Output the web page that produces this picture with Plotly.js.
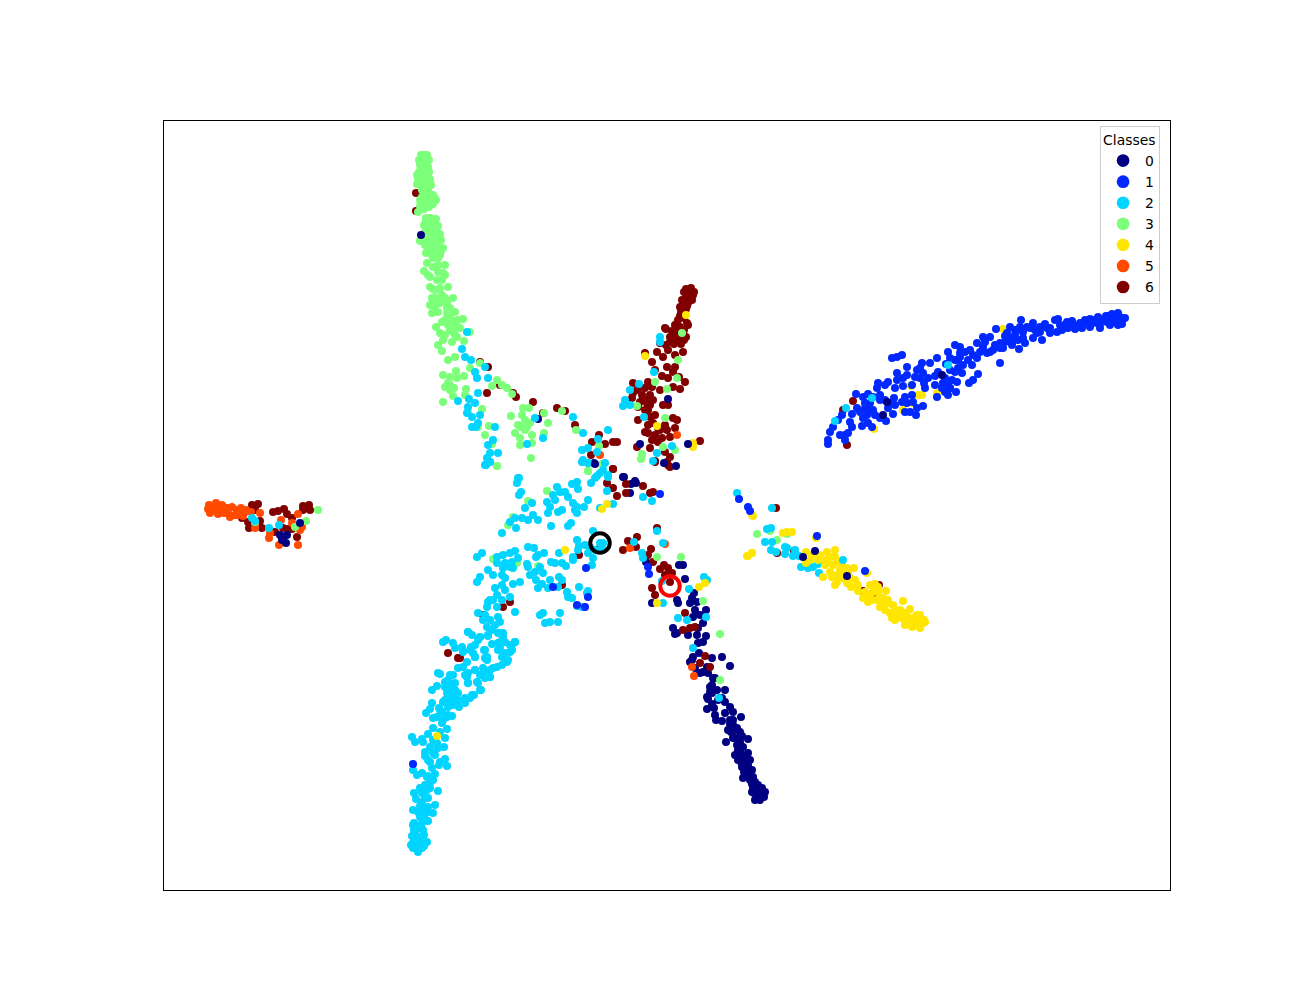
<!DOCTYPE html>
<html>
<head>
<meta charset="utf-8">
<script src="https://cdn.plot.ly/plotly-3.0.1.min.js"></script>
<style>html,body{margin:0;padding:0;background:#fff}</style>
</head>
<body>
<div id="chart" style="width:1300px;height:1000px"></div>
<script>
const classNames = ["0","1","2","3","4","5","6"];
const classColors = ["#000080","#0028ff","#00d4ff","#7cff79","#ffe600","#ff4a00","#800000"];

const class0 = [[594,537],[623,523],[636,517],[631,516],[630,507],[646,438],[679,435],[683,435],[685,421],[652,397],[694,407],[692,402],[697,398],[677,400],[678,397],[690,397],[695,390],[706,390],[693,383],[700,385],[703,377],[698,372],[673,372],[677,367],[688,365],[697,365],[706,364],[698,357],[703,358],[692,340],[693,343],[722,343],[730,334],[708,327],[713,322],[703,328],[695,332],[700,327],[710,313],[717,310],[725,310],[712,307],[707,303],[720,302],[675,366],[699,347],[690,338],[712,342],[707,333],[715,322],[712,315],[710,308],[708,301],[707,291],[712,296],[722,302],[725,298],[730,293],[715,285],[722,279],[725,287],[733,288],[741,283],[733,280],[728,270],[737,272],[733,262],[742,264],[748,261],[726,258],[737,255],[743,253],[735,245],[748,247],[740,248],[743,242],[742,233],[748,235],[743,222],[750,227],[753,223],[755,218],[758,215],[753,213],[762,212],[757,207],[760,203],[754,207],[763,207],[758,202],[756,211],[760,209],[752,218],[746,230],[745,240],[738,250],[730,276],[731,268],[735,262],[740,258],[747,240],[749,231],[755,214],[761,205],[538,581],[624,523],[635,519]];
const class0Dense = [[752,216],[756,206],[764,203],[765,208],[752,208],[760,200],[755,200],[750,220],[748,225],[752,230],[745,235],[750,240],[735,270],[740,262],[742,245],[738,240],[733,275],[740,268],[730,280],[718,300],[714,292],[716,280],[744,228],[741,238]];
const class1 = [[1117,682],[1120,683],[1113,680],[1122,680],[1110,681],[1107,678],[1102,680],[1097,677],[1092,677],[1087,677],[1085,680],[1090,673],[1080,677],[1073,675],[1075,671],[1067,678],[1058,681],[1055,680],[1068,672],[1062,670],[1057,668],[1050,667],[1045,676],[1047,672],[1033,677],[1021,680],[1042,660],[1037,667],[1030,672],[1027,673],[1023,668],[1017,670],[1010,673],[996,671],[1007,667],[1023,662],[1033,662],[1018,660],[1012,662],[1005,658],[1000,657],[1019,651],[1012,655],[1003,652],[998,653],[990,663],[983,663],[977,657],[983,653],[993,650],[987,647],[980,648],[973,645],[968,640],[977,642],[972,635],[1000,637],[955,655],[960,653],[948,648],[960,647],[950,642],[955,640],[937,642],[963,635],[958,632],[962,627],[955,628],[978,626],[973,620],[969,617],[952,620],[957,618],[948,615],[943,617],[942,612],[950,612],[956,608],[945,608],[937,603],[935,624],[930,637],[922,637],[920,632],[917,630],[923,627],[902,645],[897,643],[892,642],[907,633],[897,627],[907,625],[915,623],[920,622],[924,617],[903,622],[897,620],[888,618],[885,615],[878,617],[877,612],[895,612],[903,614],[863,603],[856,606],[868,606],[873,603],[894,602],[905,603],[912,605],[902,598],[895,595],[890,597],[888,592],[907,597],[913,598],[923,594],[917,592],[905,588],[910,588],[916,585],[893,586],[886,579],[870,597],[865,592],[873,590],[857,592],[852,586],[867,585],[875,585],[863,582],[880,582],[868,577],[862,574],[872,573],[852,573],[842,585],[838,580],[833,573],[830,568],[845,565],[848,567],[840,565],[845,560],[828,560],[828,556],[1115,678],[1119,679],[1105,680],[1100,676],[1095,680],[1078,673],[1065,675],[1040,668],[1015,665],[1008,660],[995,655],[990,648],[965,648],[958,640],[946,636],[938,628],[928,622],[912,615],[880,600],[860,588],[850,578],[739,501],[748,493],[750,489],[817,464],[865,429],[660,506],[648,433],[649,426],[586,432],[553,413],[588,403],[577,395],[585,393],[413,236]];
const class1Dense = [[1125,682],[1122,676],[1112,686],[1118,687],[1106,684],[1098,683],[1110,675],[1100,672],[1090,681],[1082,672],[1072,679],[1060,675],[1050,672],[1040,673],[1035,670],[1020,673],[1015,670],[1005,664],[1025,657],[1012,657],[1000,652],[985,658],[970,650],[960,643],[950,630],[945,622],[935,615],[925,612],[885,600],[880,605],[865,597],[870,590],[950,612],[948,605],[1118,675],[1108,684]];
const class2 = [[418,148],[415,153],[422,152],[418,157],[423,157],[413,157],[427,158],[415,162],[420,163],[415,168],[423,170],[417,172],[414,177],[422,177],[428,179],[420,183],[425,186],[433,187],[413,190],[423,192],[428,193],[435,195],[422,198],[416,201],[428,202],[414,207],[422,207],[427,210],[438,209],[425,215],[433,220],[430,217],[427,223],[422,227],[417,225],[413,230],[432,232],[430,238],[440,238],[445,241],[447,234],[439,235],[425,244],[433,247],[425,248],[438,252],[444,253],[430,253],[423,258],[415,258],[412,263],[422,261],[428,266],[437,257],[445,262],[433,272],[440,268],[447,271],[442,277],[433,282],[437,283],[447,283],[452,284],[442,288],[426,287],[430,291],[432,297],[439,292],[443,298],[448,293],[453,295],[459,293],[465,297],[470,302],[474,305],[481,310],[450,302],[455,305],[458,307],[447,307],[452,310],[432,310],[437,314],[445,313],[450,317],[455,317],[448,320],[453,325],[438,327],[440,326],[458,332],[467,338],[465,325],[468,327],[468,317],[478,317],[475,330],[480,325],[485,322],[490,323],[493,332],[502,335],[483,332],[443,358],[446,360],[453,357],[455,352],[462,353],[471,353],[463,348],[473,347],[475,343],[484,350],[487,343],[487,340],[480,363],[488,364],[468,368],[498,367],[503,367],[500,358],[498,350],[505,347],[512,350],[515,358],[507,338],[510,355],[518,522],[517,517],[521,508],[519,505],[553,505],[557,513],[560,508],[565,508],[572,516],[577,518],[578,511],[555,500],[568,503],[547,498],[550,493],[548,487],[573,497],[577,493],[575,490],[577,487],[558,488],[562,490],[584,493],[588,500],[532,497],[525,492],[533,485],[538,480],[528,480],[522,482],[515,482],[510,478],[516,472],[502,467],[551,474],[568,474],[571,477],[593,469],[577,460],[579,454],[585,455],[600,457],[603,457],[602,452],[595,450],[590,453],[588,447],[578,450],[573,443],[573,440],[593,442],[592,435],[559,447],[528,453],[534,452],[544,447],[538,445],[536,443],[551,438],[555,437],[562,437],[566,434],[527,436],[528,433],[540,433],[535,428],[530,425],[543,427],[536,420],[550,420],[559,423],[562,420],[542,416],[538,412],[548,412],[558,413],[567,408],[568,403],[572,402],[579,413],[588,409],[587,407],[577,394],[582,393],[543,387],[540,385],[560,387],[545,377],[550,378],[558,378],[477,443],[482,447],[497,443],[503,445],[510,447],[515,449],[518,442],[497,437],[505,437],[512,438],[488,430],[493,425],[503,432],[510,433],[513,432],[502,425],[480,423],[477,418],[513,416],[520,418],[502,415],[505,410],[497,405],[493,400],[488,398],[510,403],[502,400],[487,393],[497,393],[515,388],[478,387],[483,380],[490,380],[498,383],[487,373],[495,375],[468,368],[480,363],[488,365],[500,367],[503,363],[498,357],[515,358],[512,355],[485,350],[500,352],[502,343],[508,340],[510,348],[462,352],[470,350],[475,343],[485,342],[497,333],[490,330],[475,330],[485,327],[490,323],[463,333],[467,323],[468,317],[477,318],[480,310],[472,305],[465,302],[485,535],[490,538],[582,538],[588,537],[597,524],[603,530],[608,523],[591,517],[607,509],[613,496],[600,492],[643,503],[652,499],[634,458],[657,469],[663,457],[642,447],[643,442],[704,423],[707,420],[689,411],[663,397],[678,382],[687,380],[706,383],[693,352],[467,668],[462,651],[465,643],[471,640],[475,628],[477,622],[485,633],[488,622],[478,607],[469,601],[458,599],[468,593],[475,597],[467,587],[472,583],[480,585],[472,573],[478,577],[476,573],[495,573],[493,560],[488,555],[498,547],[490,547],[487,542],[486,535],[490,538],[519,522],[527,556],[543,562],[535,582],[573,583],[583,567],[608,570],[598,561],[582,550],[588,552],[597,548],[583,540],[588,537],[605,537],[600,527],[595,522],[608,525],[660,663],[660,658],[654,628],[630,610],[625,600],[623,594],[630,595],[644,583],[639,616],[657,547],[653,539],[672,554],[252,482],[269,472],[279,475],[255,479],[719,302],[767,471],[771,472],[765,458],[772,458],[771,450],[776,448],[785,453],[787,452],[785,446],[793,444],[799,444],[795,450],[801,433],[808,432],[813,433],[818,436],[819,427],[737,507],[772,492]];
const class2Dense = [[418,151],[413,152],[424,154],[411,155],[420,160],[412,164],[424,165],[414,170],[421,174],[413,175],[425,180],[418,188],[428,188],[420,194],[425,203],[430,212],[420,212],[428,224],[435,226],[445,300],[450,295],[455,300],[448,310],[453,305],[445,318],[450,325],[455,310],[458,300],[440,290],[448,285],[443,280],[490,400],[495,412],[485,385],[505,422],[492,370],[478,360],[500,378],[472,365],[475,355],[492,356],[505,358],[433,260],[428,240],[435,245]];
const class3 = [[424,845],[424,842],[423,839],[425,837],[423,835],[425,833],[422,830],[425,829],[423,826],[426,825],[421,826],[424,822],[426,819],[422,817],[417,825],[417,816],[427,814],[424,812],[428,809],[425,807],[430,804],[433,805],[422,803],[420,800],[428,802],[436,800],[433,796],[426,797],[420,794],[418,788],[430,782],[432,781],[426,780],[434,778],[429,776],[435,773],[431,772],[426,770],[436,768],[432,766],[428,764],[437,762],[433,760],[430,757],[420,759],[425,755],[437,756],[434,753],[428,750],[441,749],[436,748],[432,745],[426,747],[438,742],[445,735],[438,735],[427,737],[433,733],[424,729],[443,727],[437,720],[442,720],[430,723],[448,713],[433,711],[432,702],[432,687],[442,678],[448,675],[455,677],[457,673],[447,687],[440,697],[442,705],[435,693],[447,697],[450,683],[453,702],[435,710],[436,673],[440,667],[443,660],[452,658],[457,663],[464,659],[470,668],[463,681],[455,688],[442,649],[448,640],[455,643],[470,632],[480,637],[443,598],[453,604],[443,625],[450,623],[448,617],[445,613],[450,610],[457,622],[456,629],[464,624],[466,611],[465,605],[497,620],[492,614],[502,615],[507,612],[512,606],[523,592],[529,592],[511,584],[525,580],[530,577],[521,573],[527,573],[515,567],[520,562],[532,565],[544,567],[548,577],[544,587],[532,557],[520,555],[531,542],[497,534],[482,591],[468,588],[489,574],[478,573],[485,565],[492,556],[562,589],[576,570],[599,554],[602,536],[588,529],[497,534],[547,509],[528,499],[508,475],[513,483],[493,441],[517,437],[538,434],[588,529],[603,536],[657,443],[681,443],[703,399],[720,366],[720,320],[665,582],[678,640],[677,622],[667,611],[655,618],[682,667],[637,594],[642,546],[641,541],[663,553],[675,550],[757,466],[770,469],[777,460],[787,466],[318,490],[306,479],[295,473],[255,478]];
const class3Dense = [[421,845],[427,845],[419,840],[429,840],[420,835],[428,833],[419,828],[429,828],[418,822],[430,821],[421,815],[431,815],[422,810],[434,803],[425,800],[429,793],[424,791],[426,782],[436,781],[424,775],[438,774],[425,768],[440,766],[425,762],[441,760],[427,756],[443,752],[430,748],[440,745],[433,742],[428,725],[438,728],[445,725],[430,713],[440,712],[436,702],[445,702],[430,695],[438,688],[450,692],[445,680],[452,680],[458,680],[460,672],[445,665],[450,670],[455,665],[438,655],[453,668],[447,692],[435,700],[522,585],[518,575],[525,570],[450,615],[454,612]];
const class4 = [[686,685],[645,644],[657,574],[693,557],[693,553],[607,496],[565,450],[602,491],[657,397],[699,413],[705,417],[753,484],[748,444],[752,447],[437,264],[1003,671],[911,614],[918,605],[922,605],[937,607],[874,571],[913,597],[903,590],[752,485],[747,444],[752,447],[783,467],[787,468],[792,468],[816,462],[806,448],[812,445],[806,437],[810,440],[818,440],[827,448],[835,450],[830,443],[835,443],[838,438],[828,437],[833,435],[823,423],[832,423],[837,425],[840,430],[847,432],[854,432],[843,422],[850,422],[855,420],[847,417],[851,413],[858,415],[867,427],[837,418],[858,409],[870,415],[875,416],[865,408],[878,413],[886,409],[863,402],[870,402],[877,400],[883,402],[888,400],[903,399],[880,393],[887,397],[893,395],[895,390],[890,387],[892,382],[900,390],[905,387],[910,391],[902,382],[908,383],[917,385],[910,377],[913,380],[920,382],[923,377],[918,375],[915,375],[922,378],[873,408],[878,408],[867,403],[896,386],[899,384],[905,380],[912,379],[916,378],[919,379],[925,378],[820,445],[826,440],[842,435],[848,428]];
const class4Dense = [[915,383],[920,385],[924,380],[912,373],[920,372],[905,375],[900,383],[895,380],[885,390],[880,400],[825,435],[830,428],[840,425],[835,415],[845,425],[872,400],[868,398],[882,395],[914,377],[908,378]];
const class5 = [[212,492],[215,493],[218,492],[213,490],[217,489],[220,490],[227,492],[228,487],[230,483],[237,490],[240,488],[245,488],[238,485],[243,484],[260,487],[255,472],[270,467],[269,462],[279,455],[298,455],[281,480],[300,470],[302,473],[298,486],[292,477],[255,477],[600,545],[677,565],[630,452],[665,456],[694,324],[692,333]];
const class5Dense = [[208,491],[209,495],[216,497],[222,495],[210,487],[218,486],[224,487],[232,493],[235,485],[241,492],[246,490],[251,488]];
const class6 = [[689,708],[688,705],[690,703],[686,702],[689,700],[685,699],[688,697],[684,696],[687,694],[683,693],[686,691],[682,689],[690,710],[691,706],[680,684],[678,680],[684,682],[687,677],[675,675],[680,673],[688,675],[672,669],[677,668],[684,670],[666,671],[680,664],[686,663],[678,660],[670,663],[674,656],[681,656],[683,648],[670,658],[666,655],[645,647],[657,648],[665,672],[660,657],[652,638],[663,643],[667,633],[675,633],[655,630],[662,624],[668,622],[673,628],[685,618],[679,623],[673,613],[680,611],[633,617],[648,618],[637,610],[645,612],[652,613],[632,602],[642,605],[653,600],[647,597],[638,593],[633,607],[648,590],[663,595],[668,595],[638,580],[650,583],[645,568],[653,577],[658,572],[673,582],[677,580],[667,570],[675,572],[648,567],[652,560],[662,562],[670,563],[650,552],[665,548],[670,543],[668,535],[655,539],[637,553],[700,559],[617,558],[613,558],[605,556],[599,565],[592,558],[591,545],[613,531],[557,592],[565,589],[575,575],[533,598],[543,587],[516,603],[513,607],[487,607],[488,633],[480,638],[500,615],[416,807],[416,789],[613,531],[670,533],[655,538],[667,538],[607,517],[613,512],[626,516],[617,504],[626,507],[643,514],[650,507],[653,508],[657,472],[637,463],[628,459],[623,450],[636,453],[651,451],[648,445],[653,438],[660,431],[664,435],[668,432],[672,427],[665,425],[652,412],[655,405],[670,418],[579,445],[599,451],[562,415],[510,398],[503,393],[483,385],[460,342],[685,387],[690,372],[683,370],[695,373],[705,344],[700,337],[710,333],[448,347],[458,342],[252,495],[258,496],[255,490],[248,478],[242,482],[249,472],[262,472],[260,479],[273,488],[278,489],[284,491],[287,486],[292,482],[283,472],[288,471],[275,468],[303,494],[309,495],[310,490],[303,490],[297,463],[292,471],[776,492],[794,449],[777,447],[863,409],[879,415],[873,407],[853,599],[847,555],[843,590]];
const class6Dense = [[693,705],[692,700],[684,708],[682,700],[680,693],[694,708],[691,712],[686,711],[681,688],[676,672],[680,660],[684,660],[660,610],[645,600],[640,598],[650,605],[640,613],[648,575],[655,565],[660,570],[665,575],[658,558],[672,660],[668,650],[675,645],[677,676],[674,664],[645,590],[650,595],[655,585]];

const class0Accents = [[421,765],[668,601],[640,556],[688,556],[664,537],[676,534],[595,536],[942,625],[887,598],[883,585],[815,449],[803,443],[847,424],[283,463],[280,465],[287,465],[282,460],[286,457],[300,477]];
const class2Accents = [[948,635],[872,602],[846,592],[835,579],[843,440],[662,419]];
const blackRingPoint = [[600,457]];
const redRingPoint = [[670,414]];

const xOf = p => p[0];
const yOf = p => p[1];
const markerTrace = (pts, i) => ({
  x: pts.map(xOf), y: pts.map(yOf), type: "scatter", mode: "markers", showlegend: false, hoverinfo: "skip",
  marker: {size: 8, color: classColors[i], line: {width: 0}}
});
const legendTraces = classNames.map((name, i) => ({
  x: [null], y: [null], type: "scatter", mode: "markers", name: name, hoverinfo: "skip",
  marker: {size: 12.7, color: classColors[i], line: {width: 0}}
}));
const ringTrace = (pts, color) => ({
  x: pts.map(xOf), y: pts.map(yOf), type: "scatter", mode: "markers", showlegend: false, hoverinfo: "skip",
  marker: {symbol: "circle-open", size: 19.5, color: color, line: {width: 4, color: color}}
});

const traces = legendTraces.concat([
  markerTrace(class0.concat(class0Dense), 0), markerTrace(class6.concat(class6Dense), 6), markerTrace(class5.concat(class5Dense), 5), markerTrace(class3.concat(class3Dense), 3),
  markerTrace(class2.concat(class2Dense), 2), markerTrace(class4.concat(class4Dense), 4), markerTrace(class1.concat(class1Dense), 1),
  markerTrace(class0Accents, 0), markerTrace(class2Accents, 2),
  ringTrace(blackRingPoint, "#000000"), ringTrace(redRingPoint, "#ff0000")
]);

const hiddenAxis = {showgrid: false, zeroline: false, showticklabels: false, ticks: "",
  showline: true, mirror: true, linecolor: "#000", linewidth: 1};

Plotly.newPlot("chart", traces, {
  width: 1300, height: 1000, paper_bgcolor: "#fff", plot_bgcolor: "#fff",
  margin: {l: 164, r: 130, t: 121, b: 110, pad: 0},
  font: {family: "DejaVu Sans", size: 13.9, color: "#000"},
  xaxis: Object.assign({range: [164, 1170]}, hiddenAxis),
  yaxis: Object.assign({range: [110, 879]}, hiddenAxis),
  legend: {title: {text: "Classes", font: {size: 13.9}, side: "top"}, x: 0.9305, y: 0.9935, xanchor: "left", yanchor: "top",
    bgcolor: "rgba(255,255,255,0.8)", bordercolor: "#cccccc", borderwidth: 1, font: {size: 13.9}, itemwidth: 34, traceorder: "normal"}
}, {displayModeBar: false, staticPlot: true});
</script>
</body>
</html>
